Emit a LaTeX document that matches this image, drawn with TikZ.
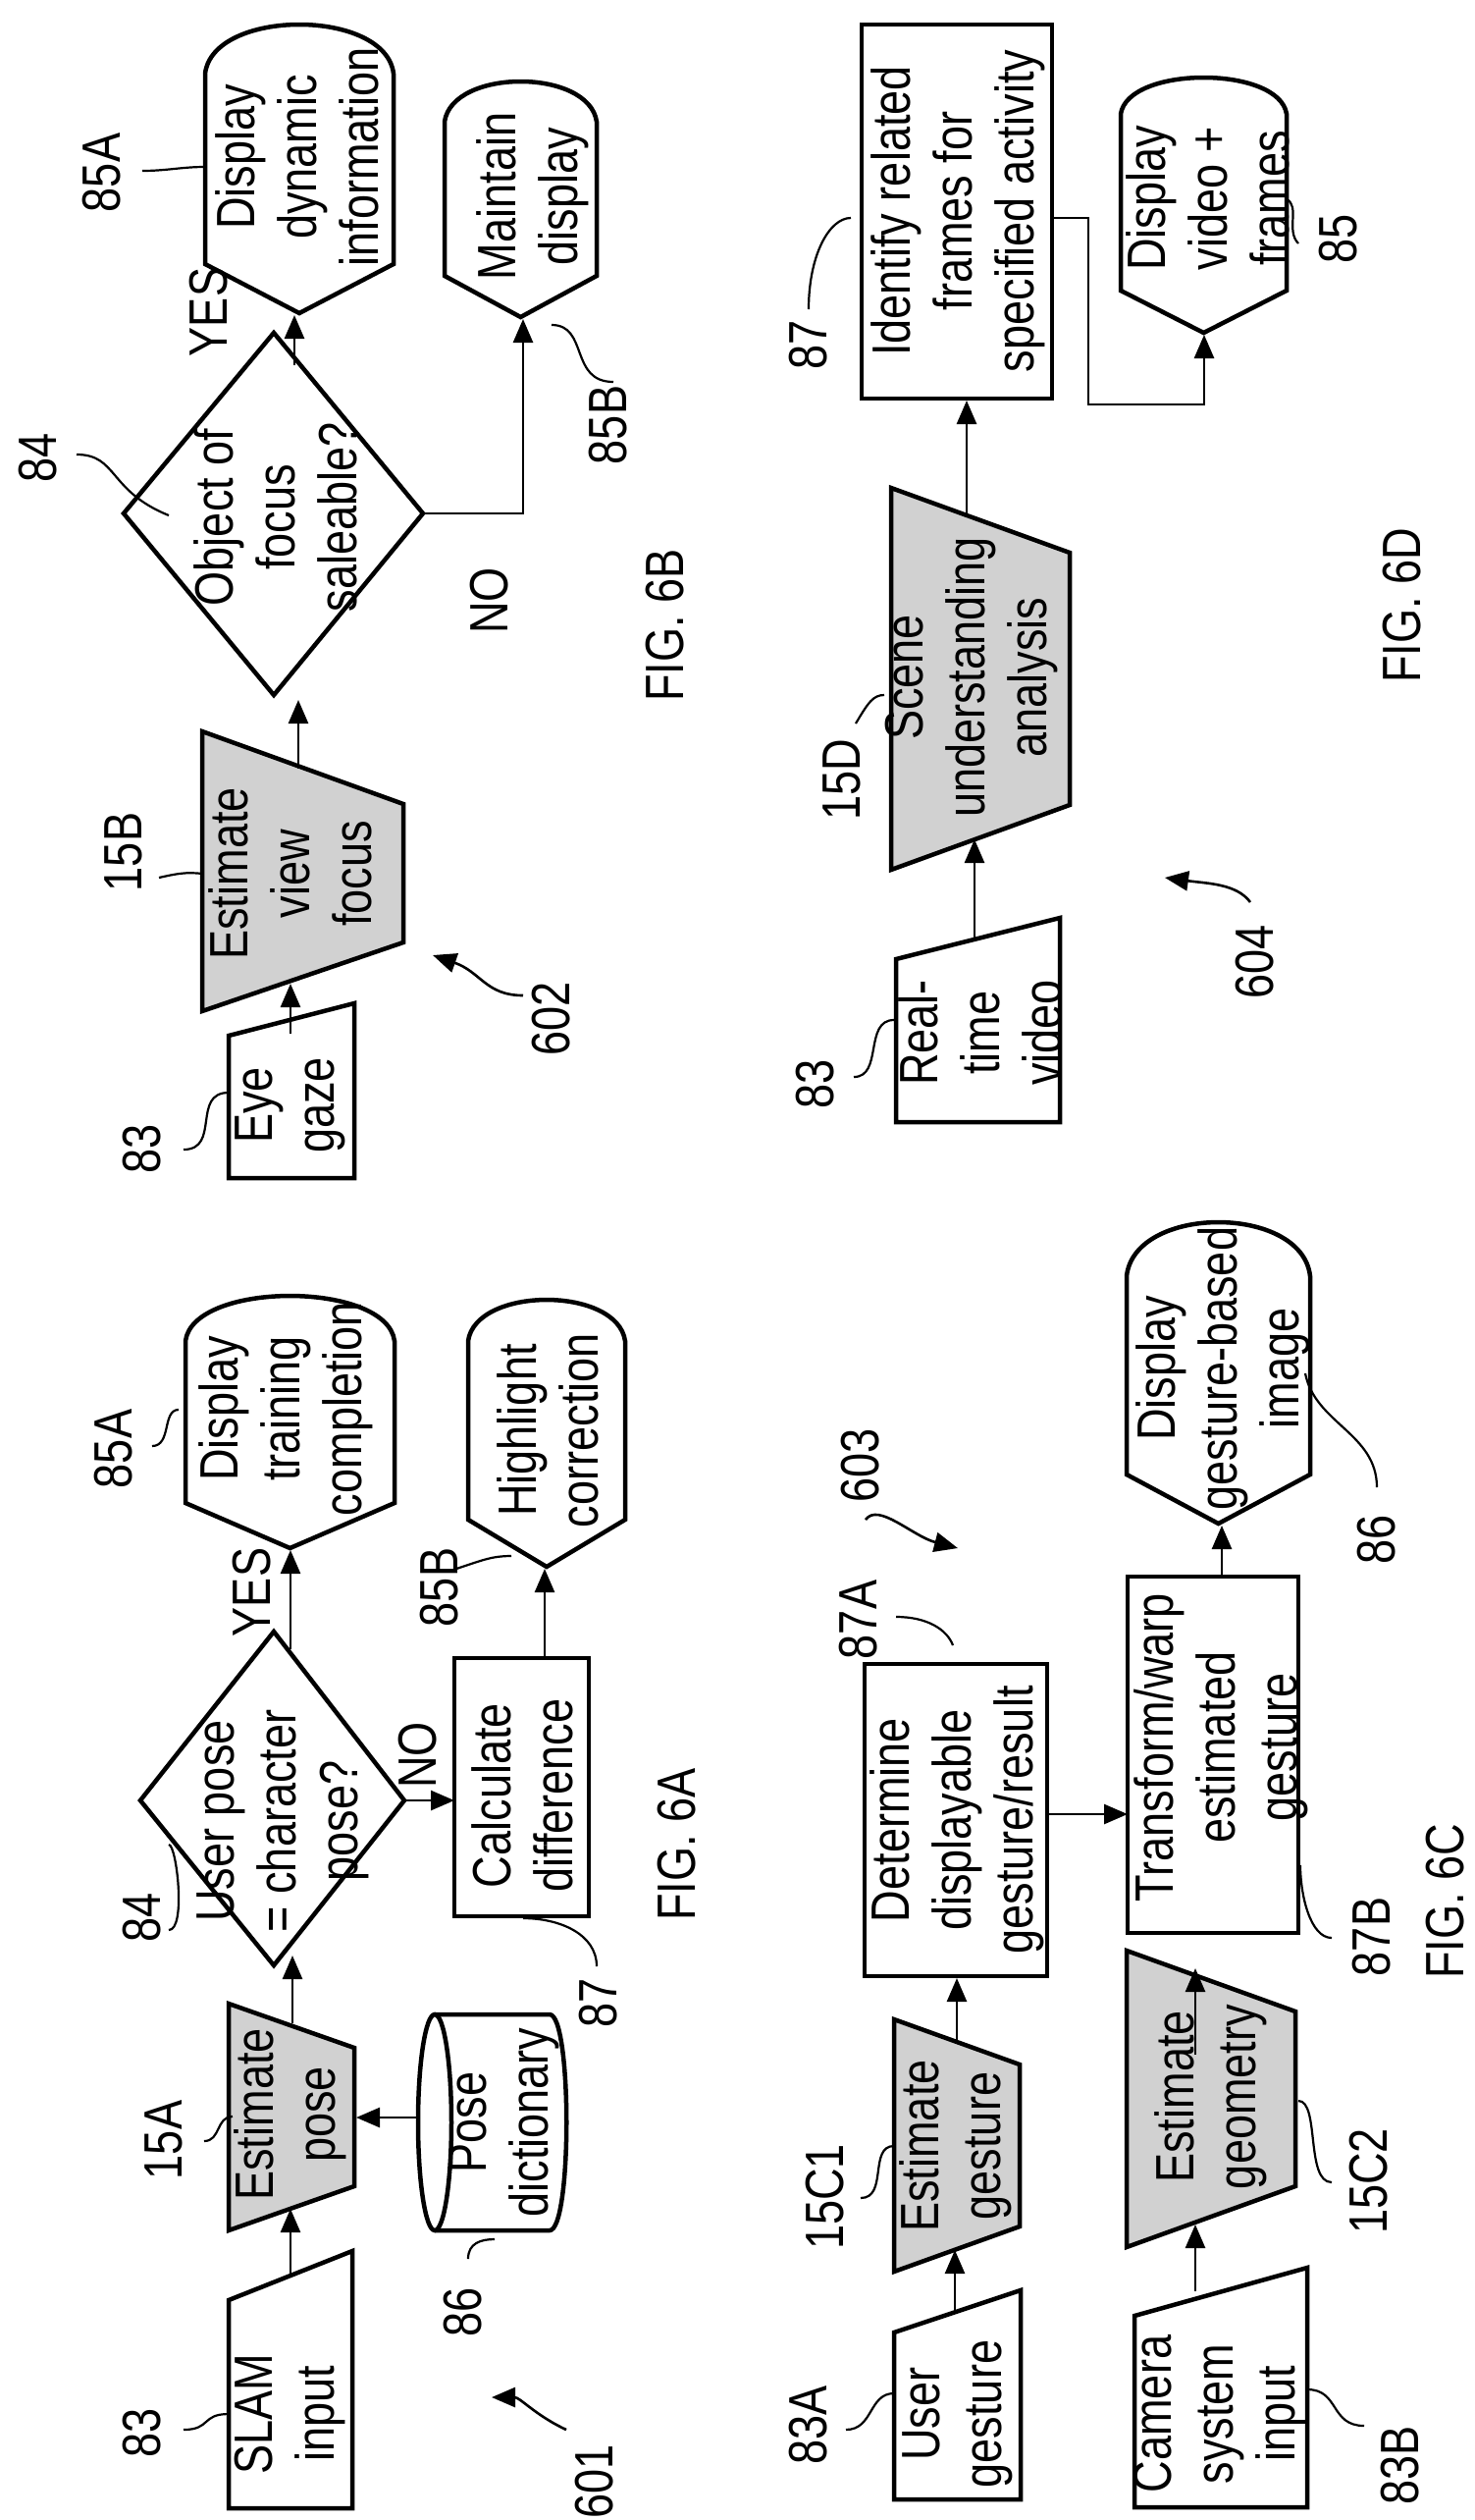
\documentclass[tikz,border=0pt]{standalone}
\usepackage{fontspec}
\newfontfamily\nar[FakeStretch=0.82]{Liberation Sans}
\usetikzlibrary{arrows.meta}
\newcommand\dispshape[6]{% xl xr apex yc yb yp
  \pgfmathsetmacro\ctl{(#3-0.25*#4)/0.75}
  \draw[shp] (#1,#4) .. controls (#1+8,\ctl) and (#2-8,\ctl) .. (#2,#4) -- (#2,#5) -- ({(#1+#2)/2},#6) -- (#1,#5) -- cycle;}
\begin{document}
\begin{tikzpicture}[x=1pt,y=-1pt,
  every node/.style={font=\nar\fontsize{55}{63}\selectfont, rotate=90, align=center, inner sep=0pt},
  shp/.style={line width=4.5pt, line join=miter},
  proc/.style={shp, fill=black!18},
  ar/.style={line width=2.6pt, -{Triangle[length=24pt,width=20pt]}},
  ln/.style={line width=2.6pt},
  ld/.style={line width=2.2pt}]
\useasboundingbox (0,0) rectangle (1502,2567);
\fill[white] (0,0) rectangle (1502,2567);

% ================= FIG 6B =================
\dispshape{209}{401}{25}{75}{269}{319}
\node (dyn) at (303,160) {Display\\dynamic\\information};
\dispshape{453}{608}{83}{124}{281}{323}
\node (mnt) at (543,200) {Maintain\\display};
\draw[shp] (126,523) -- (279,339) -- (431,523) -- (279,708) -- cycle;
\node (obj) at (281,527) {Object of\\focus\\saleable?};
\draw[proc] (206,745) -- (411,819) -- (411,960) -- (206,1030) -- cycle;
\node (evf) at (296,890) {Estimate\\view\\focus};
\draw[shp] (233,1055) -- (361,1022) -- (361,1200) -- (233,1200) -- cycle;
\node (eye) at (296,1126) {Eye\\gaze};
\coordinate (b1) at (300,372); \coordinate (b1e) at (300,321);
\draw[ar] (b1) -- (b1e);
\node at (213,318) {YES};
\coordinate (b2) at (431,523); \coordinate (b2e) at (533,325);
\draw[ar] (b2) -- (533,523) -- (b2e);
\node at (499,612) {NO};
\coordinate (b3) at (304,783); \coordinate (b3e) at (304,713);
\draw[ar] (b3) -- (b3e);
\coordinate (b4) at (296,1053); \coordinate (b4e) at (296,1002);
\draw[ar] (b4) -- (b4e);
\node at (145,1170) {83};
\draw[ld] (187,1171) .. controls (225,1171) and (195,1113) .. (233,1113);
\node at (126,868) {15B};
\draw[ld] (162,894) .. controls (180,890) and (190,888) .. (206,890);
\node at (39,466) {84};
\draw[ld] (78,463) .. controls (120,463) and (110,500) .. (172,525);
\node at (104,176) {85A};
\draw[ld] (145,174) .. controls (170,174) and (185,170) .. (209,170);
\node at (620,433) {85B};
\draw[ld] (562,331) .. controls (600,331) and (580,389) .. (625,389);
\node at (562,1038) {602};
\draw[ar] (533,1014) .. controls (495,1014) and (490,990) .. (441,973);
\node at (678,637) {FIG. 6B};

% ================= FIG 6A =================
\dispshape{189}{402}{1320}{1366}{1531}{1577}
\node (dtc) at (291,1435) {Display\\training\\completion};
\dispshape{477}{637}{1324}{1366}{1548}{1596}
\node (hlc) at (558,1457) {Highlight\\correction};
\draw[shp] (143,1834) -- (279,1662) -- (412,1834) -- (279,2002) -- cycle;
\node (upc) at (288,1855) {User pose\\= character\\pose?};
\draw[shp] (463,1689) rectangle (600,1952);
\node (cal) at (532,1829) {Calculate\\difference};
\draw[proc] (233,2041) -- (361,2086) -- (361,2227) -- (233,2272) -- cycle;
\node (ep) at (296,2154) {Estimate\\pose};
\draw[shp] (233,2343) -- (359,2293) -- (359,2555) -- (233,2555) -- cycle;
\node (slam) at (296,2459) {SLAM\\input};
\draw[shp] (443,2052) -- (560,2052) .. controls (583,2052) and (583,2272) .. (560,2272) -- (443,2272);
\draw[shp] (443,2162) ellipse [x radius=17, y radius=110];
\node (pd) at (514,2162) {Pose\\dictionary};
\coordinate (a1) at (296,1680); \coordinate (a1e) at (296,1579);
\draw[ar] (a1) -- (a1e);
\node at (257,1622) {YES};
\coordinate (a2) at (412,1834); \coordinate (a2e) at (463,1834);
\draw[ar] (a2) -- (a2e);
\node at (426,1788) {NO};
\coordinate (a3) at (555,1689); \coordinate (a3e) at (555,1598);
\draw[ar] (a3) -- (a3e);
\coordinate (a4) at (298,2061); \coordinate (a4e) at (298,1992);
\draw[ar] (a4) -- (a4e);
\coordinate (a5) at (296,2318); \coordinate (a5e) at (296,2250);
\draw[ar] (a5) -- (a5e);
\coordinate (a6) at (426,2157); \coordinate (a6e) at (363,2157);
\draw[ar] (a6) -- (a6e);
\node at (145,2478) {83};
\draw[ld] (187,2475) .. controls (215,2475) and (205,2459) .. (233,2459);
\node at (167,2180) {15A};
\draw[ld] (208,2181) .. controls (225,2181) and (220,2156) .. (237,2156);
\node at (145,1953) {84};
\draw[ld] (172,1966) .. controls (190,1966) and (180,1879) .. (172,1879);
\node at (610,2040) {87};
\draw[ld] (608,2003) .. controls (608,1970) and (570,1954) .. (533,1954);
\node at (116,1476) {85A};
\draw[ld] (155,1473) .. controls (175,1473) and (165,1436) .. (182,1436);
\node at (448,1617) {85B};
\draw[ld] (465,1598) .. controls (490,1590) and (500,1585) .. (521,1585);
\node at (472,2355) {86};
\draw[ld] (477,2301) .. controls (477,2285) and (490,2281) .. (504,2281);
\node at (606,2528) {601};
\draw[ar] (577,2475) .. controls (545,2460) and (530,2442) .. (501,2442);
\node at (690,1879) {FIG. 6A};

% ================= FIG 6D =================
\draw[shp] (878,25) rectangle (1072,406);
\node (idf) at (976,215) {Identify related\\frames for\\specified activity};
\dispshape{1142}{1311}{79}{116}{296}{339}
\node (dvf) at (1231,202) {Display\\video +\\frames};
\draw[proc] (908,497) -- (1090,563) -- (1090,820) -- (908,886) -- cycle;
\node (sua) at (990,690) {Scene\\understanding\\analysis};
\draw[shp] (913,977) -- (1080,935) -- (1080,1143) -- (913,1143) -- cycle;
\node (rtv) at (999,1052) {Real-\\time\\video};
\coordinate (d1) at (1072,222); \coordinate (d1e) at (1227,341);
\draw[ar] (d1) -- (1109,222) -- (1109,412) -- (1227,412) -- (d1e);
\coordinate (d2) at (985,525); \coordinate (d2e) at (985,408);
\draw[ar] (d2) -- (d2e);
\coordinate (d3) at (993,958); \coordinate (d3e) at (993,855);
\draw[ar] (d3) -- (d3e);
\node at (831,1104) {83};
\draw[ld] (870,1097) .. controls (900,1097) and (880,1039) .. (911,1039);
\node at (858,794) {15D};
\draw[ld] (872,737) .. controls (885,715) and (890,708) .. (901,708);
\node at (824,351) {87};
\draw[ld] (824,315) .. controls (824,260) and (845,222) .. (867,222);
\node at (1364,243) {85};
\draw[ld] (1323,248) .. controls (1310,235) and (1325,210) .. (1311,203);
\node at (1279,980) {604};
\draw[ar] (1274,919) .. controls (1260,900) and (1230,900) .. (1187,894);
\node at (1429,617) {FIG. 6D};

% ================= FIG 6C =================
\dispshape{1148}{1335}{1245}{1300}{1502}{1552}
\node (dgi) at (1246,1394) {Display\\gesture-based\\image};
\draw[shp] (1149,1606) rectangle (1323,1969);
\node (tw) at (1244,1780) {Transform/warp\\estimated\\gesture};
\draw[shp] (881,1695) rectangle (1067,2013);
\node (det) at (975,1854) {Determine\\displayable\\gesture/result};
\draw[proc] (911,2057) -- (1039,2103) -- (1039,2268) -- (911,2314) -- cycle;
\node (eg) at (974,2186) {Estimate\\gesture};
\draw[shp] (911,2376) -- (1040,2333) -- (1040,2546) -- (911,2546) -- cycle;
\node (ug) at (976,2459) {User\\gesture};
\draw[proc] (1148,1987) -- (1320,2049) -- (1320,2227) -- (1148,2289) -- cycle;
\node (egm) at (1234,2136) {Estimate\\geometry};
\draw[shp] (1156,2359) -- (1332,2310) -- (1332,2554) -- (1156,2554) -- cycle;
\node (csi) at (1243,2459) {Camera\\system\\input};
\coordinate (c1) at (1245,1606); \coordinate (c1e) at (1245,1554);
\draw[ar] (c1) -- (c1e);
\coordinate (c2) at (1069,1848); \coordinate (c2e) at (1149,1848);
\draw[ar] (c2) -- (c2e);
\coordinate (c3) at (975,2080); \coordinate (c3e) at (975,2015);
\draw[ar] (c3) -- (c3e);
\coordinate (c4) at (973,2355); \coordinate (c4e) at (973,2292);
\draw[ar] (c4) -- (c4e);
\coordinate (c5) at (1218,2093); \coordinate (c5e) at (1218,2005);
\draw[ar] (c5) -- (c5e);
\coordinate (c6) at (1218,2334); \coordinate (c6e) at (1218,2266);
\draw[ar] (c6) -- (c6e);
\node at (824,2470) {83A};
\draw[ld] (862,2475) .. controls (890,2475) and (885,2438) .. (911,2438);
\node at (841,2238) {15C1};
\draw[ld] (877,2239) .. controls (905,2239) and (885,2186) .. (911,2186);
\node at (875,1650) {87A};
\draw[ld] (913,1647) .. controls (945,1647) and (965,1660) .. (971,1676);
\node at (877,1493) {603};
\draw[ar] (882,1548) .. controls (895,1530) and (930,1565) .. (976,1577);
\node at (1403,1568) {86};
\draw[ld] (1403,1515) .. controls (1403,1460) and (1340,1450) .. (1330,1399);
\node at (1398,1973) {87B};
\draw[ld] (1357,1974) .. controls (1335,1974) and (1325,1930) .. (1325,1900);
\node at (1395,2222) {15C2};
\draw[ld] (1357,2223) .. controls (1330,2223) and (1345,2140) .. (1323,2140);
\node at (1427,2511) {83B};
\draw[ld] (1390,2471) .. controls (1355,2471) and (1365,2434) .. (1332,2434);
\node at (1473,1937) {FIG. 6C};
\end{tikzpicture}
\end{document}
